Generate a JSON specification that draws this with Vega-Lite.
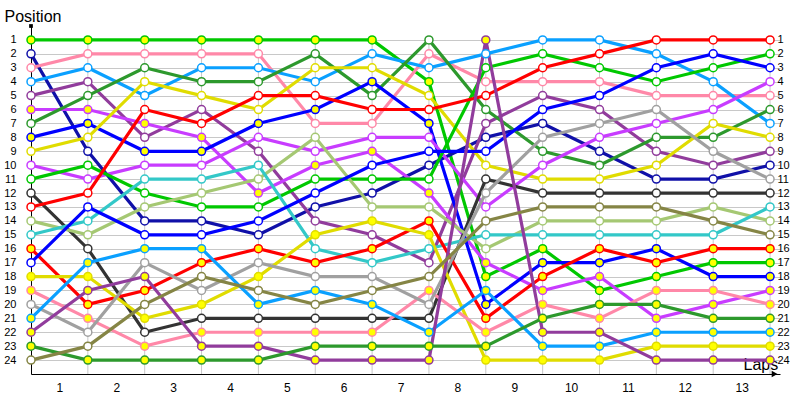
{
"$schema": "https://vega.github.io/schema/vega-lite/v6.json",
"width": 749, "height": 348,
"autosize": {"type": "none"},
"padding": {"left": 31, "top": 26, "right": 20, "bottom": 26},
"background": "white",
"config": {"view": {"stroke": null}, "font": "Liberation Sans"},
"datasets": {
"laps": [{"l":1},{"l":2},{"l":3},{"l":4},{"l":5},{"l":6},{"l":7},{"l":8},{"l":9},{"l":10},{"l":11},{"l":12},{"l":13}],
"pos": [
{"d":"g1","f":"Y","l":0,"p":1},{"d":"g1","f":"Y","l":1,"p":1},{"d":"g1","f":"Y","l":2,"p":1},{"d":"g1","f":"Y","l":3,"p":1},{"d":"g1","f":"Y","l":4,"p":1},{"d":"g1","f":"Y","l":5,"p":1},{"d":"g1","f":"Y","l":6,"p":1},{"d":"g1","f":"Y","l":7,"p":4},{"d":"g1","f":"Y","l":8,"p":18},{"d":"g1","f":"Y","l":9,"p":16},{"d":"g1","f":"Y","l":10,"p":19},{"d":"g1","f":"Y","l":11,"p":18},{"d":"g1","f":"Y","l":12,"p":17},{"d":"g1","f":"Y","l":13,"p":17},
{"d":"nv2","f":"W","l":0,"p":2},{"d":"nv2","f":"W","l":1,"p":9},{"d":"nv2","f":"W","l":2,"p":14},{"d":"nv2","f":"W","l":3,"p":14},{"d":"nv2","f":"W","l":4,"p":15},{"d":"nv2","f":"W","l":5,"p":13},{"d":"nv2","f":"W","l":6,"p":12},{"d":"nv2","f":"W","l":7,"p":10},{"d":"nv2","f":"W","l":8,"p":8},{"d":"nv2","f":"W","l":9,"p":7},{"d":"nv2","f":"W","l":10,"p":9},{"d":"nv2","f":"W","l":11,"p":11},{"d":"nv2","f":"W","l":12,"p":11},{"d":"nv2","f":"W","l":13,"p":10},
{"d":"pk3","f":"W","l":0,"p":3},{"d":"pk3","f":"W","l":1,"p":2},{"d":"pk3","f":"W","l":2,"p":2},{"d":"pk3","f":"W","l":3,"p":2},{"d":"pk3","f":"W","l":4,"p":2},{"d":"pk3","f":"W","l":5,"p":7},{"d":"pk3","f":"W","l":6,"p":7},{"d":"pk3","f":"W","l":7,"p":2},{"d":"pk3","f":"W","l":8,"p":4},{"d":"pk3","f":"W","l":9,"p":4},{"d":"pk3","f":"W","l":10,"p":4},{"d":"pk3","f":"W","l":11,"p":5},{"d":"pk3","f":"W","l":12,"p":5},{"d":"pk3","f":"W","l":13,"p":5},
{"d":"lb4","f":"W","l":0,"p":4},{"d":"lb4","f":"W","l":1,"p":3},{"d":"lb4","f":"W","l":2,"p":5},{"d":"lb4","f":"W","l":3,"p":3},{"d":"lb4","f":"W","l":4,"p":3},{"d":"lb4","f":"W","l":5,"p":4},{"d":"lb4","f":"W","l":6,"p":2},{"d":"lb4","f":"W","l":7,"p":3},{"d":"lb4","f":"W","l":8,"p":2},{"d":"lb4","f":"W","l":9,"p":1},{"d":"lb4","f":"W","l":10,"p":1},{"d":"lb4","f":"W","l":11,"p":2},{"d":"lb4","f":"W","l":12,"p":4},{"d":"lb4","f":"W","l":13,"p":7},
{"d":"pu5","f":"W","l":0,"p":5},{"d":"pu5","f":"W","l":1,"p":4},{"d":"pu5","f":"W","l":2,"p":8},{"d":"pu5","f":"W","l":3,"p":6},{"d":"pu5","f":"W","l":4,"p":9},{"d":"pu5","f":"W","l":5,"p":14},{"d":"pu5","f":"W","l":6,"p":15},{"d":"pu5","f":"W","l":7,"p":17},{"d":"pu5","f":"W","l":8,"p":7},{"d":"pu5","f":"W","l":9,"p":5},{"d":"pu5","f":"W","l":10,"p":6},{"d":"pu5","f":"W","l":11,"p":9},{"d":"pu5","f":"W","l":12,"p":10},{"d":"pu5","f":"W","l":13,"p":9},
{"d":"vi6","f":"Y","l":0,"p":6},{"d":"vi6","f":"Y","l":1,"p":6},{"d":"vi6","f":"Y","l":2,"p":7},{"d":"vi6","f":"Y","l":3,"p":8},{"d":"vi6","f":"Y","l":4,"p":12},{"d":"vi6","f":"Y","l":5,"p":10},{"d":"vi6","f":"Y","l":6,"p":9},{"d":"vi6","f":"Y","l":7,"p":12},{"d":"vi6","f":"Y","l":8,"p":17},{"d":"vi6","f":"Y","l":9,"p":19},{"d":"vi6","f":"Y","l":10,"p":18},{"d":"vi6","f":"Y","l":11,"p":21},{"d":"vi6","f":"Y","l":12,"p":20},{"d":"vi6","f":"Y","l":13,"p":19},
{"d":"dg7","f":"W","l":0,"p":7},{"d":"dg7","f":"W","l":1,"p":5},{"d":"dg7","f":"W","l":2,"p":3},{"d":"dg7","f":"W","l":3,"p":4},{"d":"dg7","f":"W","l":4,"p":4},{"d":"dg7","f":"W","l":5,"p":2},{"d":"dg7","f":"W","l":6,"p":5},{"d":"dg7","f":"W","l":7,"p":1},{"d":"dg7","f":"W","l":8,"p":6},{"d":"dg7","f":"W","l":9,"p":9},{"d":"dg7","f":"W","l":10,"p":10},{"d":"dg7","f":"W","l":11,"p":8},{"d":"dg7","f":"W","l":12,"p":8},{"d":"dg7","f":"W","l":13,"p":6},
{"d":"bl8","f":"Y","l":0,"p":8},{"d":"bl8","f":"Y","l":1,"p":7},{"d":"bl8","f":"Y","l":2,"p":9},{"d":"bl8","f":"Y","l":3,"p":9},{"d":"bl8","f":"Y","l":4,"p":7},{"d":"bl8","f":"Y","l":5,"p":6},{"d":"bl8","f":"Y","l":6,"p":4},{"d":"bl8","f":"Y","l":7,"p":7},{"d":"bl8","f":"Y","l":8,"p":20},{"d":"bl8","f":"Y","l":9,"p":17},{"d":"bl8","f":"Y","l":10,"p":17},{"d":"bl8","f":"Y","l":11,"p":16},{"d":"bl8","f":"Y","l":12,"p":18},{"d":"bl8","f":"Y","l":13,"p":18},
{"d":"ye9","f":"W","l":0,"p":9},{"d":"ye9","f":"W","l":1,"p":8},{"d":"ye9","f":"W","l":2,"p":4},{"d":"ye9","f":"W","l":3,"p":5},{"d":"ye9","f":"W","l":4,"p":6},{"d":"ye9","f":"W","l":5,"p":3},{"d":"ye9","f":"W","l":6,"p":3},{"d":"ye9","f":"W","l":7,"p":5},{"d":"ye9","f":"W","l":8,"p":10},{"d":"ye9","f":"W","l":9,"p":11},{"d":"ye9","f":"W","l":10,"p":11},{"d":"ye9","f":"W","l":11,"p":10},{"d":"ye9","f":"W","l":12,"p":7},{"d":"ye9","f":"W","l":13,"p":8},
{"d":"vi10","f":"W","l":0,"p":10},{"d":"vi10","f":"W","l":1,"p":11},{"d":"vi10","f":"W","l":2,"p":10},{"d":"vi10","f":"W","l":3,"p":10},{"d":"vi10","f":"W","l":4,"p":8},{"d":"vi10","f":"W","l":5,"p":9},{"d":"vi10","f":"W","l":6,"p":8},{"d":"vi10","f":"W","l":7,"p":8},{"d":"vi10","f":"W","l":8,"p":13},{"d":"vi10","f":"W","l":9,"p":10},{"d":"vi10","f":"W","l":10,"p":8},{"d":"vi10","f":"W","l":11,"p":7},{"d":"vi10","f":"W","l":12,"p":6},{"d":"vi10","f":"W","l":13,"p":4},
{"d":"g11","f":"W","l":0,"p":11},{"d":"g11","f":"W","l":1,"p":10},{"d":"g11","f":"W","l":2,"p":12},{"d":"g11","f":"W","l":3,"p":13},{"d":"g11","f":"W","l":4,"p":13},{"d":"g11","f":"W","l":5,"p":11},{"d":"g11","f":"W","l":6,"p":11},{"d":"g11","f":"W","l":7,"p":11},{"d":"g11","f":"W","l":8,"p":3},{"d":"g11","f":"W","l":9,"p":2},{"d":"g11","f":"W","l":10,"p":3},{"d":"g11","f":"W","l":11,"p":4},{"d":"g11","f":"W","l":12,"p":3},{"d":"g11","f":"W","l":13,"p":2},
{"d":"dk12","f":"W","l":0,"p":12},{"d":"dk12","f":"W","l":1,"p":16},{"d":"dk12","f":"W","l":2,"p":22},{"d":"dk12","f":"W","l":3,"p":21},{"d":"dk12","f":"W","l":4,"p":21},{"d":"dk12","f":"W","l":5,"p":21},{"d":"dk12","f":"W","l":6,"p":21},{"d":"dk12","f":"W","l":7,"p":21},{"d":"dk12","f":"W","l":8,"p":11},{"d":"dk12","f":"W","l":9,"p":12},{"d":"dk12","f":"W","l":10,"p":12},{"d":"dk12","f":"W","l":11,"p":12},{"d":"dk12","f":"W","l":12,"p":12},{"d":"dk12","f":"W","l":13,"p":12},
{"d":"rd13","f":"W","l":0,"p":13},{"d":"rd13","f":"W","l":1,"p":12},{"d":"rd13","f":"W","l":2,"p":6},{"d":"rd13","f":"W","l":3,"p":7},{"d":"rd13","f":"W","l":4,"p":5},{"d":"rd13","f":"W","l":5,"p":5},{"d":"rd13","f":"W","l":6,"p":6},{"d":"rd13","f":"W","l":7,"p":6},{"d":"rd13","f":"W","l":8,"p":5},{"d":"rd13","f":"W","l":9,"p":3},{"d":"rd13","f":"W","l":10,"p":2},{"d":"rd13","f":"W","l":11,"p":1},{"d":"rd13","f":"W","l":12,"p":1},{"d":"rd13","f":"W","l":13,"p":1},
{"d":"lo14","f":"W","l":0,"p":14},{"d":"lo14","f":"W","l":1,"p":15},{"d":"lo14","f":"W","l":2,"p":13},{"d":"lo14","f":"W","l":3,"p":12},{"d":"lo14","f":"W","l":4,"p":11},{"d":"lo14","f":"W","l":5,"p":8},{"d":"lo14","f":"W","l":6,"p":13},{"d":"lo14","f":"W","l":7,"p":13},{"d":"lo14","f":"W","l":8,"p":16},{"d":"lo14","f":"W","l":9,"p":14},{"d":"lo14","f":"W","l":10,"p":14},{"d":"lo14","f":"W","l":11,"p":14},{"d":"lo14","f":"W","l":12,"p":13},{"d":"lo14","f":"W","l":13,"p":14},
{"d":"te15","f":"W","l":0,"p":15},{"d":"te15","f":"W","l":1,"p":14},{"d":"te15","f":"W","l":2,"p":11},{"d":"te15","f":"W","l":3,"p":11},{"d":"te15","f":"W","l":4,"p":10},{"d":"te15","f":"W","l":5,"p":16},{"d":"te15","f":"W","l":6,"p":17},{"d":"te15","f":"W","l":7,"p":16},{"d":"te15","f":"W","l":8,"p":15},{"d":"te15","f":"W","l":9,"p":15},{"d":"te15","f":"W","l":10,"p":15},{"d":"te15","f":"W","l":11,"p":15},{"d":"te15","f":"W","l":12,"p":15},{"d":"te15","f":"W","l":13,"p":13},
{"d":"rd16","f":"Y","l":0,"p":16},{"d":"rd16","f":"Y","l":1,"p":20},{"d":"rd16","f":"Y","l":2,"p":19},{"d":"rd16","f":"Y","l":3,"p":17},{"d":"rd16","f":"Y","l":4,"p":16},{"d":"rd16","f":"Y","l":5,"p":17},{"d":"rd16","f":"Y","l":6,"p":16},{"d":"rd16","f":"Y","l":7,"p":14},{"d":"rd16","f":"Y","l":8,"p":21},{"d":"rd16","f":"Y","l":9,"p":18},{"d":"rd16","f":"Y","l":10,"p":16},{"d":"rd16","f":"Y","l":11,"p":17},{"d":"rd16","f":"Y","l":12,"p":16},{"d":"rd16","f":"Y","l":13,"p":16},
{"d":"bl17","f":"W","l":0,"p":17},{"d":"bl17","f":"W","l":1,"p":13},{"d":"bl17","f":"W","l":2,"p":15},{"d":"bl17","f":"W","l":3,"p":15},{"d":"bl17","f":"W","l":4,"p":14},{"d":"bl17","f":"W","l":5,"p":12},{"d":"bl17","f":"W","l":6,"p":10},{"d":"bl17","f":"W","l":7,"p":9},{"d":"bl17","f":"W","l":8,"p":9},{"d":"bl17","f":"W","l":9,"p":6},{"d":"bl17","f":"W","l":10,"p":5},{"d":"bl17","f":"W","l":11,"p":3},{"d":"bl17","f":"W","l":12,"p":2},{"d":"bl17","f":"W","l":13,"p":3},
{"d":"ye18","f":"Y","l":0,"p":18},{"d":"ye18","f":"Y","l":1,"p":18},{"d":"ye18","f":"Y","l":2,"p":21},{"d":"ye18","f":"Y","l":3,"p":20},{"d":"ye18","f":"Y","l":4,"p":18},{"d":"ye18","f":"Y","l":5,"p":15},{"d":"ye18","f":"Y","l":6,"p":14},{"d":"ye18","f":"Y","l":7,"p":15},{"d":"ye18","f":"Y","l":8,"p":24},{"d":"ye18","f":"Y","l":9,"p":24},{"d":"ye18","f":"Y","l":10,"p":24},{"d":"ye18","f":"Y","l":11,"p":23},{"d":"ye18","f":"Y","l":12,"p":23},{"d":"ye18","f":"Y","l":13,"p":23},
{"d":"pk19","f":"Y","l":0,"p":19},{"d":"pk19","f":"Y","l":1,"p":21},{"d":"pk19","f":"Y","l":2,"p":23},{"d":"pk19","f":"Y","l":3,"p":22},{"d":"pk19","f":"Y","l":4,"p":22},{"d":"pk19","f":"Y","l":5,"p":22},{"d":"pk19","f":"Y","l":6,"p":22},{"d":"pk19","f":"Y","l":7,"p":19},{"d":"pk19","f":"Y","l":8,"p":22},{"d":"pk19","f":"Y","l":9,"p":20},{"d":"pk19","f":"Y","l":10,"p":21},{"d":"pk19","f":"Y","l":11,"p":19},{"d":"pk19","f":"Y","l":12,"p":19},{"d":"pk19","f":"Y","l":13,"p":20},
{"d":"gr20","f":"W","l":0,"p":20},{"d":"gr20","f":"W","l":1,"p":22},{"d":"gr20","f":"W","l":2,"p":17},{"d":"gr20","f":"W","l":3,"p":19},{"d":"gr20","f":"W","l":4,"p":17},{"d":"gr20","f":"W","l":5,"p":18},{"d":"gr20","f":"W","l":6,"p":18},{"d":"gr20","f":"W","l":7,"p":20},{"d":"gr20","f":"W","l":8,"p":12},{"d":"gr20","f":"W","l":9,"p":8},{"d":"gr20","f":"W","l":10,"p":7},{"d":"gr20","f":"W","l":11,"p":6},{"d":"gr20","f":"W","l":12,"p":9},{"d":"gr20","f":"W","l":13,"p":11},
{"d":"lb21","f":"Y","l":0,"p":21},{"d":"lb21","f":"Y","l":1,"p":17},{"d":"lb21","f":"Y","l":2,"p":16},{"d":"lb21","f":"Y","l":3,"p":16},{"d":"lb21","f":"Y","l":4,"p":20},{"d":"lb21","f":"Y","l":5,"p":19},{"d":"lb21","f":"Y","l":6,"p":20},{"d":"lb21","f":"Y","l":7,"p":22},{"d":"lb21","f":"Y","l":8,"p":19},{"d":"lb21","f":"Y","l":9,"p":23},{"d":"lb21","f":"Y","l":10,"p":23},{"d":"lb21","f":"Y","l":11,"p":22},{"d":"lb21","f":"Y","l":12,"p":22},{"d":"lb21","f":"Y","l":13,"p":22},
{"d":"pu22","f":"Y","l":0,"p":22},{"d":"pu22","f":"Y","l":1,"p":19},{"d":"pu22","f":"Y","l":2,"p":18},{"d":"pu22","f":"Y","l":3,"p":23},{"d":"pu22","f":"Y","l":4,"p":23},{"d":"pu22","f":"Y","l":5,"p":24},{"d":"pu22","f":"Y","l":6,"p":24},{"d":"pu22","f":"Y","l":7,"p":24},{"d":"pu22","f":"Y","l":8,"p":1},{"d":"pu22","f":"Y","l":9,"p":22},{"d":"pu22","f":"Y","l":10,"p":22},{"d":"pu22","f":"Y","l":11,"p":24},{"d":"pu22","f":"Y","l":12,"p":24},{"d":"pu22","f":"Y","l":13,"p":24},
{"d":"dg23","f":"Y","l":0,"p":23},{"d":"dg23","f":"Y","l":1,"p":24},{"d":"dg23","f":"Y","l":2,"p":24},{"d":"dg23","f":"Y","l":3,"p":24},{"d":"dg23","f":"Y","l":4,"p":24},{"d":"dg23","f":"Y","l":5,"p":23},{"d":"dg23","f":"Y","l":6,"p":23},{"d":"dg23","f":"Y","l":7,"p":23},{"d":"dg23","f":"Y","l":8,"p":23},{"d":"dg23","f":"Y","l":9,"p":21},{"d":"dg23","f":"Y","l":10,"p":20},{"d":"dg23","f":"Y","l":11,"p":20},{"d":"dg23","f":"Y","l":12,"p":21},{"d":"dg23","f":"Y","l":13,"p":21},
{"d":"ol24","f":"W","l":0,"p":24},{"d":"ol24","f":"W","l":1,"p":23},{"d":"ol24","f":"W","l":2,"p":20},{"d":"ol24","f":"W","l":3,"p":18},{"d":"ol24","f":"W","l":4,"p":19},{"d":"ol24","f":"W","l":5,"p":20},{"d":"ol24","f":"W","l":6,"p":19},{"d":"ol24","f":"W","l":7,"p":18},{"d":"ol24","f":"W","l":8,"p":14},{"d":"ol24","f":"W","l":9,"p":13},{"d":"ol24","f":"W","l":10,"p":13},{"d":"ol24","f":"W","l":11,"p":13},{"d":"ol24","f":"W","l":12,"p":14},{"d":"ol24","f":"W","l":13,"p":15}
]
},
"resolve": {"axis": {"x": "independent", "y": "independent"}},
"layer": [
{
"data": {"name": "laps"},
"mark": {"type": "rule", "color": "#c8c8c8", "strokeWidth": 1},
"encoding": {
"x": {"field": "l", "type": "quantitative", "scale": {"domain": [0, 13.175], "nice": false, "zero": false}, "axis": null},
"y": {"datum": 1, "type": "quantitative", "scale": {"domain": [0, 25], "reverse": true, "nice": false, "zero": false}, "axis": null},
"y2": {"datum": 25}
}
},
{
"data": {"name": "pos"},
"mark": {"type": "line", "strokeWidth": 3.2},
"encoding": {
"x": {"field": "l", "type": "quantitative", "scale": {"domain": [0, 13.175], "nice": false, "zero": false},
 "axis": {"values": [0.5,1.5,2.5,3.5,4.5,5.5,6.5,7.5,8.5,9.5,10.5,11.5,12.5], "labelExpr": "format(datum.value + 0.5, 'd')", "ticks": false, "tickSize": 0, "grid": false, "domainColor": "#000000", "domainWidth": 1, "labelColor": "#000000", "labelFontSize": 12, "labelPadding": 8, "labelFont": "Liberation Sans",
  "title": "Laps", "titleFontSize": 16, "titleFontWeight": "normal", "titleColor": "#000000", "titleAlign": "left", "titleAnchor": "start", "titleBaseline": "alphabetic", "titleX": 712, "titleY": -5, "titleFont": "Liberation Sans"}},
"y": {"field": "p", "type": "quantitative", "scale": {"domain": [0, 25], "reverse": true, "nice": false, "zero": false},
 "axis": {"orient": "left", "values": [1,2,3,4,5,6,7,8,9,10,11,12,13,14,15,16,17,18,19,20,21,22,23,24], "ticks": false, "tickSize": 0, "grid": true, "gridColor": "#c8c8c8", "gridWidth": 1, "domainColor": "#000000", "domainWidth": 1, "labelColor": "#000000", "labelFontSize": 11, "labelPadding": 15, "labelAlign": "right", "labelFont": "Liberation Sans",
  "title": "Position", "titleFontSize": 16, "titleFontWeight": "normal", "titleColor": "#000000", "titleAngle": 0, "titleAlign": "left", "titleBaseline": "alphabetic", "titleX": -27, "titleY": -5, "titleFont": "Liberation Sans"}},
"color": {"field": "d", "type": "nominal", "legend": null,
 "scale": {"domain": ["g1","nv2","pk3","lb4","pu5","vi6","dg7","bl8","ye9","vi10","g11","dk12","rd13","lo14","te15","rd16","bl17","ye18","pk19","gr20","lb21","pu22","dg23","ol24"],
  "range": ["#00c800","#1010a8","#ff88a8","#0aa0ff","#913c9c","#c83cff","#2d992d","#0000ff","#e0dc00","#c83cff","#00c800","#333333","#ff0000","#a5c873","#33c8c8","#ff0000","#0000ff","#e0dc00","#ff88a8","#a0a0a0","#0aa0ff","#913c9c","#2d992d","#858545"]}}
}
},
{
"data": {"name": "pos"},
"mark": {"type": "point", "shape": "circle", "filled": true, "size": 64, "strokeWidth": 1.5, "opacity": 1},
"encoding": {
"x": {"field": "l", "type": "quantitative", "scale": {"domain": [0, 13.175], "nice": false, "zero": false}, "axis": null},
"y": {"field": "p", "type": "quantitative", "scale": {"domain": [0, 25], "reverse": true, "nice": false, "zero": false},
 "axis": {"orient": "right", "values": [1,2,3,4,5,6,7,8,9,10,11,12,13,14,15,16,17,18,19,20,21,22,23,24], "offset": -5, "ticks": false, "tickSize": 0, "grid": false, "domain": false, "labelColor": "#000000", "labelFontSize": 11, "labelPadding": 2, "labelAlign": "left", "labelFont": "Liberation Sans", "title": null}},
"fill": {"field": "f", "type": "nominal", "legend": null, "scale": {"domain": ["Y","W"], "range": ["#ffff00","#ffffff"]}},
"stroke": {"field": "d", "type": "nominal", "legend": null,
 "scale": {"domain": ["g1","nv2","pk3","lb4","pu5","vi6","dg7","bl8","ye9","vi10","g11","dk12","rd13","lo14","te15","rd16","bl17","ye18","pk19","gr20","lb21","pu22","dg23","ol24"],
  "range": ["#00c800","#1010a8","#ff88a8","#0aa0ff","#913c9c","#c83cff","#2d992d","#0000ff","#e0dc00","#c83cff","#00c800","#333333","#ff0000","#a5c873","#33c8c8","#ff0000","#0000ff","#e0dc00","#ff88a8","#a0a0a0","#0aa0ff","#913c9c","#2d992d","#858545"]}}
}
},
{
"data": {"values": [{"k": "arrow"}]},
"mark": {"type": "point", "shape": "triangle-right", "filled": true, "color": "#000000", "size": 45, "opacity": 1},
"encoding": {
"x": {"datum": 13.08, "type": "quantitative", "scale": {"domain": [0, 13.175], "nice": false, "zero": false}, "axis": null},
"y": {"datum": 25, "type": "quantitative", "scale": {"domain": [0, 25], "reverse": true, "nice": false, "zero": false}, "axis": null}
}
},
{
"data": {"values": [{"k": "top"}]},
"mark": {"type": "point", "shape": "square", "filled": true, "color": "#000000", "size": 14, "opacity": 1},
"encoding": {
"x": {"datum": 0, "type": "quantitative", "scale": {"domain": [0, 13.175], "nice": false, "zero": false}, "axis": null},
"y": {"datum": 0, "type": "quantitative", "scale": {"domain": [0, 25], "reverse": true, "nice": false, "zero": false}, "axis": null}
}
}
]
}
